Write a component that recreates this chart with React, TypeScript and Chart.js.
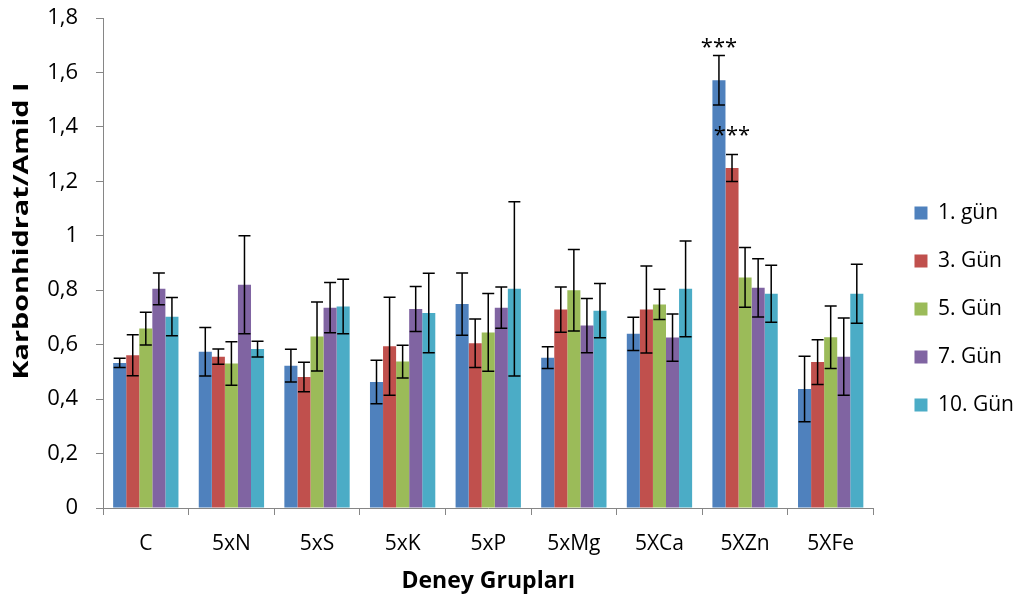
import React, { useEffect, useRef } from 'react';
import { Chart, registerables } from 'chart.js';

Chart.register(...registerables);

const categories = ['C', '5xN', '5xS', '5xK', '5xP', '5xMg', '5XCa', '5XZn', '5XFe'];
const seriesLabels = ['1. gün', '3. Gün', '5. Gün', '7. Gün', '10. Gün'];
const seriesColors = ['#4F81BD', '#C0504D', '#9BBB59', '#8064A2', '#4BACC6'];

const day1 = [0.533, 0.574, 0.523, 0.463, 0.749, 0.552, 0.640, 1.571, 0.437];
const day1Err = [0.017, 0.089, 0.060, 0.080, 0.114, 0.040, 0.061, 0.091, 0.120];
const day3 = [0.561, 0.556, 0.481, 0.594, 0.605, 0.729, 0.729, 1.249, 0.536];
const day3Err = [0.075, 0.028, 0.054, 0.180, 0.089, 0.083, 0.160, 0.050, 0.082];
const day5 = [0.659, 0.531, 0.630, 0.538, 0.645, 0.800, 0.748, 0.847, 0.627];
const day5Err = [0.060, 0.080, 0.127, 0.060, 0.143, 0.150, 0.056, 0.110, 0.115];
const day7 = [0.805, 0.820, 0.736, 0.731, 0.736, 0.670, 0.626, 0.809, 0.556];
const day7Err = [0.058, 0.180, 0.092, 0.083, 0.076, 0.100, 0.087, 0.107, 0.142];
const day10 = [0.703, 0.584, 0.740, 0.716, 0.805, 0.725, 0.805, 0.787, 0.787];
const day10Err = [0.070, 0.029, 0.100, 0.146, 0.320, 0.100, 0.176, 0.105, 0.108];

const yMin = 0;
const yMax = 1.8;
const yStep = 0.2;

const yTitle = 'Karbonhidrat/Amid I';
const xTitle = 'Deney Grupları';

// significance marks: series index, category index, value where the mark sits
const starSeries = [0, 1];
const starCategory = [7, 7];
const starValue = [1.695, 1.371];
const starText = ['***', '***'];

const seriesValues = [day1, day3, day5, day7, day10];
const seriesErrors = [day1Err, day3Err, day5Err, day7Err, day10Err];

const FONT = "'Open Sans', 'DejaVu Sans', sans-serif";

const errorBarPlugin = {
  id: 'errorBars',
  afterDatasetsDraw(chart: any) {
    const ctx = chart.ctx;
    const y = chart.scales.y;
    chart.data.datasets.forEach((ds: any, di: number) => {
      const meta = chart.getDatasetMeta(di);
      meta.data.forEach((bar: any, i: number) => {
        const v = ds.data[i];
        const e = ds.errors[i];
        const top = y.getPixelForValue(v + e);
        const bot = y.getPixelForValue(v - e);
        const x = bar.x;
        const hw = 6;
        ctx.save();
        ctx.strokeStyle = '#000000';
        ctx.lineWidth = 1.5;
        ctx.beginPath();
        ctx.moveTo(x, top);
        ctx.lineTo(x, bot);
        ctx.moveTo(x - hw, top);
        ctx.lineTo(x + hw, top);
        ctx.moveTo(x - hw, bot);
        ctx.lineTo(x + hw, bot);
        ctx.stroke();
        ctx.restore();
      });
    });
  },
};

const starPlugin = {
  id: 'stars',
  afterDatasetsDraw(chart: any) {
    const ctx = chart.ctx;
    const y = chart.scales.y;
    starSeries.forEach((s, k) => {
      const bar = chart.getDatasetMeta(s).data[starCategory[k]];
      if (!bar) return;
      ctx.save();
      ctx.fillStyle = '#000000';
      ctx.font = `22px ${FONT}`;
      ctx.textAlign = 'center';
      ctx.textBaseline = 'alphabetic';
      ctx.fillText(starText[k], bar.x, y.getPixelForValue(starValue[k]) + 7);
      ctx.restore();
    });
  },
};

// y-axis title, stretched along its reading direction like the reference
const yTitlePlugin = {
  id: 'yTitle',
  afterDraw(chart: any) {
    const ctx = chart.ctx;
    ctx.save();
    ctx.fillStyle = '#000000';
    ctx.font = `bold 21px ${FONT}`;
    ctx.textAlign = 'center';
    ctx.textBaseline = 'alphabetic';
    const w = ctx.measureText(yTitle).width;
    ctx.translate(28, 231);
    ctx.rotate(-Math.PI / 2);
    ctx.scale(297 / w, 1);
    ctx.fillText(yTitle, 0, 0);
    ctx.restore();
  },
};

export default function App() {
  const canvasRef = useRef<HTMLCanvasElement | null>(null);

  useEffect(() => {
    if (!canvasRef.current) return;
    const chart = new Chart(canvasRef.current, {
      type: 'bar',
      data: {
        labels: categories,
        datasets: seriesLabels.map((label, i) => ({
          label,
          data: seriesValues[i],
          errors: seriesErrors[i],
          backgroundColor: seriesColors[i],
          borderWidth: 0,
          categoryPercentage: 0.763,
          barPercentage: 1,
        })) as any,
      },
      options: {
        animation: false,
        responsive: false,
        devicePixelRatio: 1,
        layout: { padding: { top: 18, right: 0, bottom: 0, left: 0 } },
        plugins: {
          tooltip: { enabled: false },
          legend: {
            display: true,
            position: 'right',
            labels: {
              boxWidth: 13,
              boxHeight: 13,
              padding: 27,
              color: '#000000',
              font: { family: FONT, size: 21 },
            },
          },
        },
        scales: {
          x: {
            grid: {
              display: true,
              drawOnChartArea: false,
              drawTicks: true,
              tickLength: 7,
              color: '#868686',
              offset: true,
            },
            border: { display: true, color: '#868686', width: 1 },
            ticks: {
              color: '#000000',
              font: { family: FONT, size: 21 },
              padding: 16,
              autoSkip: false,
              maxRotation: 0,
            },
            title: {
              display: true,
              text: xTitle,
              color: '#000000',
              font: { family: FONT, size: 23, weight: 'bold' },
              padding: { top: 0, bottom: 5 },
            },
            afterFit: (s: any) => {
              s.height = 92;
            },
          },
          y: {
            min: yMin,
            max: yMax,
            grid: {
              display: true,
              drawOnChartArea: false,
              drawTicks: true,
              tickLength: 7,
              color: '#868686',
            },
            border: { display: true, color: '#868686', width: 1 },
            ticks: {
              stepSize: yStep,
              color: '#000000',
              font: { family: FONT, size: 22 },
              padding: 18,
              callback: (v: any) => String(Math.round(Number(v) * 10) / 10).replace('.', ','),
            },
            title: { display: false, text: yTitle },
            afterFit: (s: any) => {
              s.width = 103;
              s.paddingTop = 0;
              s.paddingBottom = 0;
            },
          },
          gap: {
            type: 'linear',
            position: 'right',
            display: true,
            grid: { display: false },
            border: { display: false },
            ticks: { display: false },
            afterFit: (s: any) => {
              s.width = 14;
              s.paddingTop = 0;
              s.paddingBottom = 0;
            },
          },
        },
      } as any,
      plugins: [errorBarPlugin, starPlugin, yTitlePlugin],
    });
    return () => chart.destroy();
  }, []);

  return (
    <div style={{ position: 'absolute', left: 0, top: 0, width: 1024, height: 600, background: '#ffffff' }}>
      <canvas ref={canvasRef} width={1024} height={600} style={{ display: 'block' }} />
    </div>
  );
}
